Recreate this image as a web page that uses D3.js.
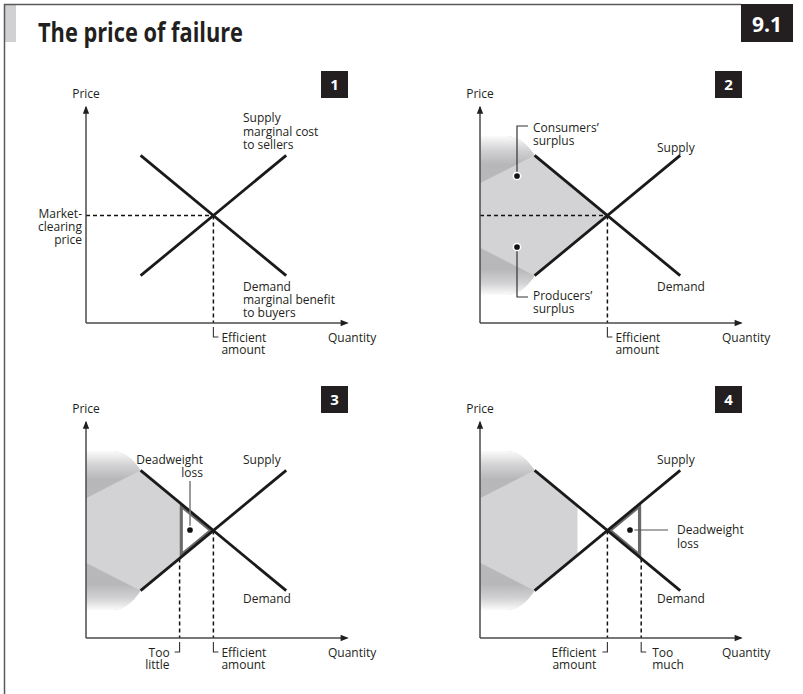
<!DOCTYPE html>
<html><head><meta charset="utf-8">
<script src="https://cdn.jsdelivr.net/npm/d3@7"></script>
<style>
body{margin:0;background:#fff;}
svg text{font-family:"Open Sans",sans-serif;fill:#231f20;}
</style></head><body>
<svg id="c" width="803" height="694"></svg>
<script>
// ---------- data ----------
const demandLine = [{q:2.1,p:7.8},{q:7.7,p:2.2}];
const supplyLine = [{q:2.1,p:2.2},{q:7.7,p:7.8}];
const equilibrium = {q:4.9,p:5.0};
const tooLittle = 3.6;
const tooMuch = 6.2;
const shadeCut = [null, null, 3.6, 3.75];
const surplusTop = 8.7, surplusBottom = 1.3, wedgeTop = 6.5, wedgeBottom = 3.5, cornerQ = 1.0;
const panelNumbers = ["1","2","3","4"];
const axisTitles = {x:"Quantity", y:"Price"};
const title = "The price of failure";
const chartNumber = "9.1";

// ---------- layout ----------
const layout = [{ox:86,oy:323},{ox:480,oy:323},{ox:86,oy:638},{ox:480,oy:638}];
const svg = d3.select("#c");
const x = d3.scaleLinear().domain([0,10]).range([0,260]);
const y = d3.scaleLinear().domain([0,10]).range([0,-215]);
const pAt = (line,q) => line[0].p + (q-line[0].q)*(line[1].p-line[0].p)/(line[1].q-line[0].q);
const lineGen = d3.line().x(d=>x(d.q)).y(d=>y(d.p));

// defs
const defs = svg.append("defs");
const tg = defs.append("linearGradient").attr("id","topGrad").attr("gradientUnits","userSpaceOnUse")
  .attr("x1",0).attr("x2",0).attr("y1",y(surplusTop)).attr("y2",y(wedgeTop));
tg.append("stop").attr("offset",0).attr("stop-color","#fbfbfb");
tg.append("stop").attr("offset",0.3).attr("stop-color","#d2d2d4");
tg.append("stop").attr("offset",0.6).attr("stop-color","#b7b7ba");
tg.append("stop").attr("offset",1).attr("stop-color","#b9b9bc");
const bg = defs.append("linearGradient").attr("id","botGrad").attr("gradientUnits","userSpaceOnUse")
  .attr("x1",0).attr("x2",0).attr("y1",y(wedgeBottom)).attr("y2",y(surplusBottom));
bg.append("stop").attr("offset",0).attr("stop-color","#b9b9bc");
bg.append("stop").attr("offset",0.45).attr("stop-color","#b7b7ba");
bg.append("stop").attr("offset",0.75).attr("stop-color","#d2d2d4");
bg.append("stop").attr("offset",1).attr("stop-color","#fbfbfb");

// frame
svg.append("rect").attr("x",5).attr("y",5).attr("width",11).attr("height",37).attr("fill","#d1d1d3");
svg.append("line").attr("x1",4.5).attr("x2",4.5).attr("y1",4).attr("y2",694).attr("stroke","#5a5a5a").attr("stroke-width",1.5);
svg.append("line").attr("x1",4).attr("x2",741).attr("y1",4.5).attr("y2",4.5).attr("stroke","#5a5a5a").attr("stroke-width",1.5);
svg.append("text").attr("x",38).attr("y",42).attr("font-size",26).attr("font-weight",700)
  .attr("textLength",205).attr("lengthAdjust","spacingAndGlyphs").text(title);
svg.append("rect").attr("x",741).attr("y",4).attr("width",52).attr("height",38).attr("fill","#231f20");
svg.append("text").attr("x",767).attr("y",32).attr("text-anchor","middle").attr("font-size",21)
  .attr("font-weight",700).style("fill","#fff").text(chartNumber);

function multiText(g, lines, xx, yy, anchor, lh){
  const t = g.append("text").attr("font-size",12).attr("text-anchor",anchor||"start");
  lines.forEach((s,i)=>t.append("tspan").attr("x",xx).attr("y",yy+i*(lh||13)).text(s));
  return t;
}

function shadePath(cut){
  const p = d3.path();
  p.moveTo(x(0),y(surplusTop));
  p.lineTo(x(cornerQ),y(surplusTop));
  p.quadraticCurveTo(x(1.6),y(surplusTop),x(demandLine[0].q),y(demandLine[0].p));
  const c = cut==null ? equilibrium.q : cut;
  p.lineTo(x(c),y(pAt(demandLine,c)));
  p.lineTo(x(c),y(pAt(supplyLine,c)));
  p.lineTo(x(supplyLine[0].q),y(supplyLine[0].p));
  p.quadraticCurveTo(x(1.6),y(surplusBottom),x(cornerQ),y(surplusBottom));
  p.lineTo(x(0),y(surplusBottom));
  p.closePath();
  return p.toString();
}
function topWedge(){
  const p = d3.path();
  p.moveTo(x(0),y(surplusTop));
  p.lineTo(x(cornerQ),y(surplusTop));
  p.quadraticCurveTo(x(1.6),y(surplusTop),x(demandLine[0].q),y(demandLine[0].p));
  p.lineTo(x(0),y(wedgeTop)); p.closePath(); return p.toString();
}
function botWedge(){
  const p = d3.path();
  p.moveTo(x(0),y(wedgeBottom));
  p.lineTo(x(supplyLine[0].q),y(supplyLine[0].p));
  p.quadraticCurveTo(x(1.6),y(surplusBottom),x(cornerQ),y(surplusBottom));
  p.lineTo(x(0),y(surplusBottom)); p.closePath(); return p.toString();
}
function dash(g,q1,p1,q2,p2){
  g.append("line").attr("x1",x(q1)).attr("y1",y(p1)).attr("x2",x(q2)).attr("y2",y(p2))
   .attr("stroke","#111").attr("stroke-width",1.5).attr("stroke-dasharray","4,3");
}
function bracket(g,q,dir){
  const xx = x(q);
  g.append("path").attr("d",`M${xx},4V14H${xx+dir*5}`).attr("fill","none").attr("stroke","#333").attr("stroke-width",1.1);
}
function dot(g,cx,cy){
  g.append("circle").attr("cx",cx).attr("cy",cy).attr("r",3.6).attr("fill","#111").attr("stroke","#fff").attr("stroke-width",1.5);
}
function dwTriangle(g,pts,id){
  const d = "M"+pts.map(p=>[x(p[0]),y(p[1])].join(",")).join("L")+"Z";
  defs.append("clipPath").attr("id",id).append("path").attr("d",d);
  g.append("path").attr("d",d).attr("fill","#fff").attr("stroke","#6a6a6a").attr("stroke-width",6.5)
   .attr("clip-path",`url(#${id})`);
}

layout.forEach((L,i)=>{
  const g = svg.append("g").attr("transform",`translate(${L.ox},${L.oy})`);
  const n = i+1;
  if(n>1){
    g.append("path").attr("d",shadePath(shadeCut[i])).attr("fill","#d3d3d5");
    g.append("path").attr("d",topWedge()).attr("fill","url(#topGrad)");
    g.append("path").attr("d",botWedge()).attr("fill","url(#botGrad)");
  }
  if(n===3) dwTriangle(g,[[tooLittle,pAt(demandLine,tooLittle)],[tooLittle,pAt(supplyLine,tooLittle)],[equilibrium.q,equilibrium.p]],"clip3");
  if(n===4) dwTriangle(g,[[equilibrium.q,equilibrium.p],[tooMuch,pAt(supplyLine,tooMuch)],[tooMuch,pAt(demandLine,tooMuch)]],"clip4");
  if(n<=2) dash(g,0,equilibrium.p,equilibrium.q,equilibrium.p);
  dash(g,equilibrium.q,equilibrium.p,equilibrium.q,0);
  if(n===3) dash(g,tooLittle,pAt(supplyLine,tooLittle),tooLittle,0);
  if(n===4) dash(g,tooMuch,pAt(demandLine,tooMuch),tooMuch,0);
  // axes
  g.append("line").attr("x1",0).attr("y1",0).attr("x2",x(10.05)).attr("y2",0).attr("stroke","#4a4a4a").attr("stroke-width",1.5);
  g.append("line").attr("x1",0).attr("y1",0).attr("x2",0).attr("y2",y(10.05)).attr("stroke","#4a4a4a").attr("stroke-width",1.5);
  const xe=x(10.1), ye=y(10.1);
  g.append("path").attr("d",`M${xe},0L${xe-8},-3.2L${xe-8},3.2Z`).attr("fill","#231f20");
  g.append("path").attr("d",`M0,${ye}L-3.2,${ye+8}L3.2,${ye+8}Z`).attr("fill","#231f20");
  g.append("text").attr("x",0).attr("y",-225).attr("text-anchor","middle").attr("font-size",12).text(axisTitles.y);
  g.append("text").attr("x",242).attr("y",19).attr("font-size",12).text(axisTitles.x);
  [demandLine,supplyLine].forEach(l=>g.append("path").attr("d",lineGen(l)).attr("fill","none")
    .attr("stroke","#1a1a1a").attr("stroke-width",2.8));
  g.append("rect").attr("x",235).attr("y",-252).attr("width",27).attr("height",27).attr("fill","#231f20");
  g.append("text").attr("x",248.5).attr("y",-233).attr("text-anchor","middle").attr("font-size",15)
   .attr("font-weight",700).style("fill","#fff").text(panelNumbers[i]);
  const ex = x(equilibrium.q);
  if(n===1){
    multiText(g,["Supply","marginal cost","to sellers"],157,-201,"start",13.5);
    multiText(g,["Demand","marginal benefit","to buyers"],157,-32,"start",13);
    multiText(g,["Market-","clearing","price"],-4,-105,"end",13);
  } else {
    multiText(g,["Supply"],n%2===0?177:157,n===2?-171:-174,"start");
    multiText(g,["Demand"],n%2===0?177:157,n===2?-32:-35,"start");
  }
  if(n<=3){
    bracket(g,equilibrium.q,1);
    multiText(g,["Efficient","amount"],ex+8,19,"start",12);
  }
  if(n===2){
    g.append("path").attr("d","M48,-197H37V-147").attr("fill","none").attr("stroke","#333").attr("stroke-width",1.2);
    g.append("path").attr("d","M37,-76V-26H48").attr("fill","none").attr("stroke","#333").attr("stroke-width",1.2);
    dot(g,37,-147); dot(g,37,-76);
    multiText(g,["Consumers’","surplus"],53,-191,"start",13);
    multiText(g,["Producers’","surplus"],53,-23,"start",13);
  }
  if(n===3){
    g.append("line").attr("x1",104).attr("x2",104).attr("y1",-108).attr("y2",-157).attr("stroke","#7a7a7a").attr("stroke-width",1.5);
    dot(g,104,-108);
    multiText(g,["Deadweight","loss"],117,-174,"end",13);
    bracket(g,tooLittle,-1);
    multiText(g,["Too","little"],x(tooLittle)-10,19,"end",12);
  }
  if(n===4){
    g.append("line").attr("x1",150).attr("x2",188).attr("y1",-108).attr("y2",-108).attr("stroke","#555").attr("stroke-width",1.1);
    dot(g,150,-108);
    multiText(g,["Deadweight","loss"],197,-104,"start",14);
    bracket(g,equilibrium.q,-1);
    multiText(g,["Efficient","amount"],ex-11,19,"end",12);
    bracket(g,tooMuch,1);
    multiText(g,["Too","much"],x(tooMuch)+11,19,"start",12);
  }
});
</script></body></html>
